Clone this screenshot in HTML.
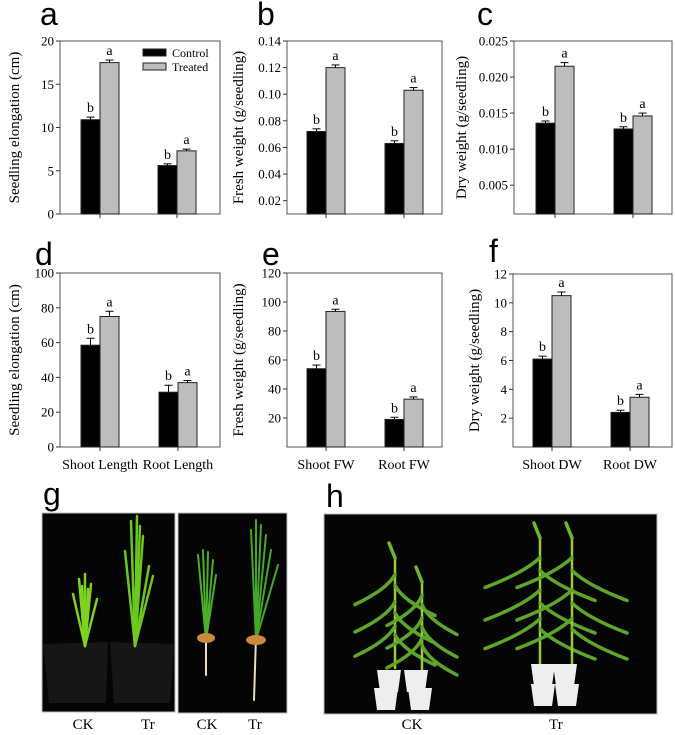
<!DOCTYPE html>
<html><head><meta charset="utf-8"><style>
html,body{margin:0;padding:0;background:#fff;}
svg{display:block;}
text{font-family:"Liberation Serif","DejaVu Serif",serif;}
text.lt{font-family:"Liberation Sans",sans-serif;font-size:32px;fill:#000;}
</style></head><body>
<svg id="fig" width="675" height="735" viewBox="0 0 675 735" xmlns="http://www.w3.org/2000/svg" font-family="Liberation Serif, serif">
<g id="charts"></g>
<g id="photos"></g>
</svg>
<script>
// ---- data ----
const catsTop = ["", ""];
const catsD = ["Shoot Length", "Root Length"];
const catsE = ["Shoot FW", "Root FW"];
const catsF = ["Shoot DW", "Root DW"];
const controlA = [10.9, 5.6];
const treatedA = [17.5, 7.3];
const errCA = [0.3, 0.2];
const errTA = [0.3, 0.2];
const controlB = [0.072, 0.063];
const treatedB = [0.120, 0.103];
const errCB = [0.002, 0.002];
const errTB = [0.002, 0.002];
const controlC = [0.0136, 0.0128];
const treatedC = [0.0215, 0.0146];
const errCC = [0.0003, 0.0003];
const errTC = [0.0005, 0.0004];
const controlD = [58.5, 31.5];
const treatedD = [75, 37];
const errCD = [4, 4];
const errTD = [3, 1.2];
const controlE = [54, 19];
const treatedE = [93.5, 33];
const errCE = [2.5, 1.5];
const errTE = [1.5, 1.5];
const controlF = [6.1, 2.4];
const treatedF = [10.5, 3.45];
const errCF = [0.2, 0.15];
const errTF = [0.25, 0.2];
const ticksA = ["0","5","10","15","20"];
const ticksB = ["0.02","0.04","0.06","0.08","0.10","0.12","0.14"];
const ticksC = ["0.005","0.010","0.015","0.020","0.025"];
const ticksD = ["0","20","40","60","80","100"];
const ticksE = ["20","40","60","80","100","120"];
const ticksF = ["2","4","6","8","10","12"];
const sigC = ["b","b"];
const sigT = ["a","a"];

const NS="http://www.w3.org/2000/svg";
function mk(parent,tag,attrs,text){const e=document.createElementNS(NS,tag);for(const k in attrs)e.setAttribute(k,attrs[k]);if(text!==undefined){e.textContent=text;if(!attrs.class)e.setAttribute('font-family','Liberation Serif, serif');}parent.appendChild(e);return e;}
const charts=document.getElementById('charts');

function panel(o){
  const g=mk(charts,'g',{});
  
  
  const y=v=>o.y1-(v-o.min)/(o.max-o.min)*(o.y1-o.y0);
  const lt=mk(g,'text',{x:o.lx,y:o.ly,class:'lt'},o.letter);
  
  
  const fr=mk(g,'rect',{x:o.x0,y:o.y0,width:o.x1-o.x0,height:o.y1-o.y0,fill:'none',stroke:'#555','stroke-width':1});
  
  
  o.ticks.forEach(t=>{
    const v=parseFloat(t), yy=y(v);
    mk(g,'line',{x1:o.x0-4,x2:o.x0,y1:yy,y2:yy,stroke:'#333'});
    const tx=mk(g,'text',{x:o.x0-6,y:yy+4.5,'text-anchor':'end','font-size':13},t);
    
    
  });
  const yt=mk(g,'text',{transform:`translate(${o.tx},${(o.y0+o.y1)/2}) rotate(-90)`,'text-anchor':'middle','font-size':15},o.title);
  
  
  const bw=19;
  o.cx.forEach((cx,i)=>{
    [[o.c,o.ec,'#000',sigC,cx-bw],[o.t,o.et,'#bdbdbd',sigT,cx]].forEach(([vals,errs,col,sig,bx],j)=>{
      const v=vals[i],top=y(v);
      const r=mk(g,'rect',{x:bx,y:top,width:bw,height:o.y1-top,fill:col,stroke:'#222','stroke-width':1});
      
      
      const et=y(v+errs[i]), mx=bx+bw/2;
      mk(g,'line',{x1:mx,x2:mx,y1:top,y2:et,stroke:'#000'});
      mk(g,'line',{x1:mx-4,x2:mx+4,y1:et,y2:et,stroke:'#000'});
      const s=mk(g,'text',{x:mx,y:et-5,'text-anchor':'middle','font-size':14},sig[i]);
      
      
    });
    mk(g,'line',{x1:cx,x2:cx,y1:o.y1,y2:o.y1+4,stroke:'#333'});
    if(o.cats[i]){const ct=mk(g,'text',{x:cx,y:o.y1+22,'text-anchor':'middle','font-size':14},o.cats[i]);
      
      }
  });
}
panel({letter:'a',lx:40,ly:25,x0:60,x1:220,y0:41,y1:214,min:0,max:20,ticks:ticksA,title:'Seedling elongation (cm)',tx:19,cx:[100,177],c:controlA,t:treatedA,ec:errCA,et:errTA,cats:catsTop});
panel({letter:'b',lx:257,ly:25,x0:287,x1:442,y0:41,y1:214,min:0.01,max:0.14,ticks:ticksB,title:'Fresh weight (g/seedling)',tx:243,cx:[326,404],c:controlB,t:treatedB,ec:errCB,et:errTB,cats:catsTop});
panel({letter:'c',lx:477,ly:25,x0:514,x1:672,y0:41,y1:214,min:0.001,max:0.025,ticks:ticksC,title:'Dry weight (g/seedling)',tx:466,cx:[555,633],c:controlC,t:treatedC,ec:errCC,et:errTC,cats:catsTop});
panel({letter:'d',lx:35,ly:265,x0:60,x1:220,y0:273,y1:447,min:0,max:100,ticks:ticksD,title:'Seedling elongation (cm)',tx:19,cx:[100,178],c:controlD,t:treatedD,ec:errCD,et:errTD,cats:catsD});
panel({letter:'e',lx:262,ly:265,x0:287,x1:442,y0:273,y1:447,min:0,max:120,ticks:ticksE,title:'Fresh weight (g/seedling)',tx:243,cx:[326,404],c:controlE,t:treatedE,ec:errCE,et:errTE,cats:catsE});
panel({letter:'f',lx:489,ly:262,x0:513,x1:672,y0:274,y1:447,min:0,max:12,ticks:ticksF,title:'Dry weight (g/seedling)',tx:479,cx:[552,630],c:controlF,t:treatedF,ec:errCF,et:errTF,cats:catsF});

const lg=mk(charts,'g',{});


mk(lg,'rect',{x:143,y:49,width:23,height:7,fill:'#000',stroke:'#222'});
mk(lg,'text',{x:172,y:57,'font-size':12},'Control');
mk(lg,'rect',{x:143,y:63,width:23,height:7,fill:'#bdbdbd',stroke:'#222'});
mk(lg,'text',{x:172,y:71,'font-size':12},'Treated');

// ---- photos ----
const ph=document.getElementById('photos');
function photo(x,y,w,h,name){const r=mk(ph,'rect',{x:x,y:y,width:w,height:h,fill:'#050505',stroke:'#bbb'});}
function leaf(x0,y0,x1,y1,bend,col,wd){mk(ph,'path',{d:`M${x0},${y0} Q${(x0+x1)/2+bend},${(y0+y1)/2} ${x1},${y1}`,stroke:col,'stroke-width':wd,fill:'none','stroke-linecap':'round'});}
mk(ph,'text',{x:43,y:505,class:'lt'},'g');
mk(ph,'text',{x:326,y:507,class:'lt'},'h');
photo(42,513,133,199,'photo-g-pots');
photo(178,513,109,200,'photo-g-seedlings');
photo(324,514,333,200,'photo-h-plants');
mk(ph,'path',{d:'M43,644 L108,642 L106,703 L49,703 Z',fill:'#161616'});
mk(ph,'path',{d:'M110,642 L174,644 L170,703 L114,703 Z',fill:'#161616'});
[[-12,-40],[-6,-55],[0,-60],[6,-50],[12,-35],[3,-45],[-3,-48]].forEach(([dx,dy])=>leaf(85,646,85+dx,594+dy+40,0,'#7ed321',2.5));
[[-10,-95],[-4,-125],[2,-130],[8,-110],[14,-80],[18,-70],[5,-120]].forEach(([dx,dy])=>leaf(135,646,135+dx,646+dy,0,'#6cc81e',2.5));
[[-8,-85],[-3,-90],[2,-88],[7,-80],[10,-65]].forEach(([dx,dy])=>leaf(206,640,206+dx,640+dy,0,'#4caf2a',2));
[[-5,-110],[0,-120],[5,-115],[10,-105],[15,-90],[22,-75]].forEach(([dx,dy])=>leaf(256,640,256+dx,640+dy,0,'#43a827',2));
leaf(206,636,206,675,0,'#e8dcc0',2);leaf(256,636,254,700,0,'#e8dcc0',2);
mk(ph,'ellipse',{cx:206,cy:638,rx:9,ry:5,fill:'#c98a3a'});
mk(ph,'ellipse',{cx:256,cy:640,rx:10,ry:5,fill:'#c98a3a'});
function plant(x,base,h,spread){
  leaf(x,base,x,base-h,0,'#9bc93a',2.5);
  [[-1,0.85],[1,0.75],[-1,0.6],[1,0.5],[-1,0.38],[1,0.3]].forEach(([s,f])=>{
    const yy=base-h*f;leaf(x,yy,x+s*spread,yy+30,-s*12,'#5da62a',3.5);
  });
  leaf(x,base-h,x-6,base-h-15,0,'#6fb52e',3.5);
}
plant(395,668,110,40);plant(422,672,90,35);
plant(540,668,130,55);plant(572,668,130,55);
[[389,670],[416,670],[386,688],[420,688],[543,664],[565,664],[543,684],[567,684]].forEach(([x,y])=>{
  mk(ph,'path',{d:`M${x-12},${y} L${x+12},${y} L${x+9},${y+22} L${x-9},${y+22} Z`,fill:'#eeeeee'});
});
[['CK',83],['Tr',148],['CK',207],['Tr',255],['CK',412],['Tr',556]].forEach(([t,x])=>{
  const e=mk(ph,'text',{x:x,y:729,'text-anchor':'middle','font-size':15},t);
  
  
});
</script>
</body></html>
